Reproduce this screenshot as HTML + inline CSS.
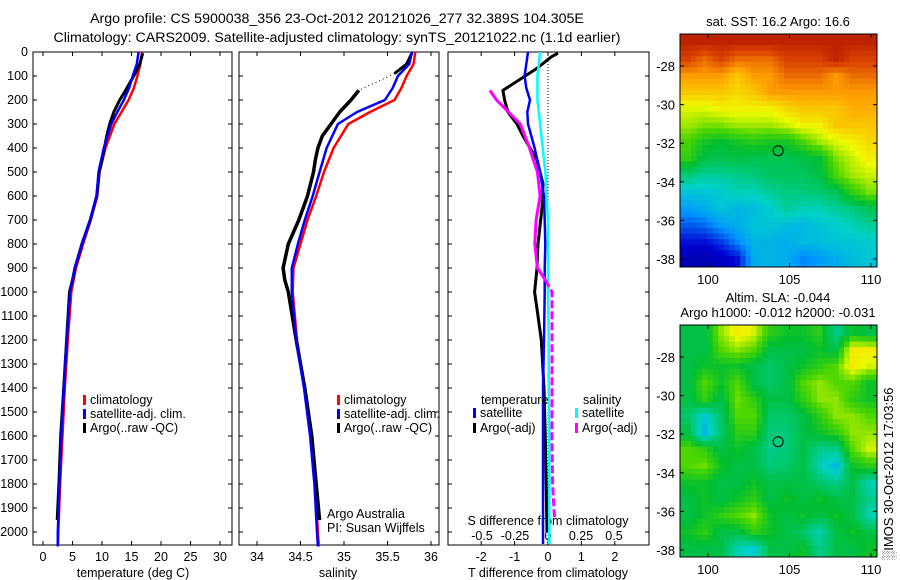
<!DOCTYPE html>
<html><head><meta charset="utf-8"><style>
body{margin:0;background:#fff;}
svg{display:block;font-family:"Liberation Sans",sans-serif;}
text{font-size:12px;fill:#000;}
</style></head><body>
<svg id="fig" width="900" height="580" viewBox="0 0 900 580">
<text x="337" y="23" text-anchor="middle" style="font-size:14.2px">Argo profile: CS 5900038_356 23-Oct-2012 20121026_277 32.389S 104.305E</text>
<text x="337" y="42" text-anchor="middle" style="font-size:14.2px">Climatology: CARS2009. Satellite-adjusted climatology: synTS_20121022.nc (1.1d earlier)</text>
<g id="g"></g>
</svg>
<script>
// ---------- data ----------
const depthTicks=[0,100,200,300,400,500,600,700,800,900,1000,1100,1200,1300,1400,1500,1600,1700,1800,1900,2000];
const tempTicks=[0,5,10,15,20,25,30];
const salTicks=[34,34.5,35,35.5,36];
const tdTicks=[-2,-1,0,1,2];
const sdTicks=[-0.5,-0.25,0,0.25,0.5];
const sdTickLabels=["-0.5","-0.25","0","0.25","0.5"];
const lonTicks=[100,105,110];
const latTicks=[-28,-30,-32,-34,-36,-38];

const climDepth=[0,50,100,150,200,250,300,400,500,600,700,800,900,1000,1200,1400,1600,1800,2000,2060];
const climTemp=[16.8,16.5,16.0,15.4,14.5,13.3,12.1,10.6,9.6,9.2,8.1,6.8,5.6,4.8,4.2,3.7,3.3,2.9,2.6,2.5];
const satTemp=[16.2,15.9,15.2,14.6,13.7,12.6,11.6,10.3,9.4,9.1,8.0,6.6,5.4,4.6,4.0,3.5,3.1,2.8,2.5,2.5];
const climSal=[35.82,35.8,35.72,35.66,35.58,35.3,35.05,34.88,34.77,34.68,34.58,34.5,34.42,34.41,34.46,34.55,34.62,34.67,34.7,34.71];
const satSal=[35.78,35.75,35.62,35.56,35.47,35.15,34.93,34.8,34.72,34.64,34.55,34.47,34.4,34.4,34.45,34.54,34.61,34.66,34.69,34.7];

const argoDepth=[5,50,90,160,200,250,300,350,400,450,500,600,700,800,900,950,1000,1200,1400,1600,1800,1950];
const argoTemp=[16.9,16.4,15.6,14.0,13.0,12.0,11.3,10.8,10.4,10.0,9.5,9.1,8.0,6.6,5.4,5.0,4.5,4.0,3.5,3.0,2.7,2.4];
const argoSal=[35.78,35.72,35.58,35.17,35.08,34.95,34.85,34.75,34.7,34.67,34.65,34.58,34.48,34.36,34.3,34.32,34.36,34.45,34.55,34.63,34.68,34.72];

const diffDepth=[0,50,100,150,200,250,300,400,500,600,700,800,900,1000,1200,1400,1600,1800,2000,2050];
const satTdiff=[-0.6,-0.65,-0.7,-0.65,-0.54,-0.62,-0.6,-0.4,-0.24,-0.12,-0.1,-0.08,-0.1,-0.1,-0.12,-0.15,-0.15,-0.15,-0.15,-0.15];
const satSdiff=[-0.06,-0.07,-0.08,-0.08,-0.08,-0.07,-0.06,-0.04,-0.02,-0.01,0,0,0,0,0.005,0.005,0.01,0.01,0.01,0.01];
const argoTdDepth=[5,20,70,160,200,250,300,350,450,550,650,800,900,1000,1100,1200,1400,1600,2000];
const argoTdiff=[0.3,0.1,-0.35,-1.35,-1.3,-1.2,-0.93,-0.75,-0.33,-0.15,-0.18,-0.3,-0.33,-0.4,-0.3,-0.2,-0.12,-0.08,-0.03];
const argoSdDepth=[160,200,250,300,400,500,600,700,800,900,950,1000,1200,1400,1600,1800,1950];
const argoSdiff=[-0.44,-0.39,-0.3,-0.21,-0.14,-0.08,-0.06,-0.09,-0.1,-0.08,-0.02,0.03,0.03,0.03,0.03,0.035,0.05];

const sstGrid=[
[21,21,21,21,21,21,21,21,21,21,21,21],
[20.5,20,20.5,20,20,20,20.5,20.5,20.5,21,20.5,20.5],
[19.5,19.5,19.5,19,19.5,19.5,20,20,20,19.5,20,20],
[19,19,19,18.8,19,19.5,19.5,19.5,19.5,19.5,19.5,19.5],
[18.3,18.3,18.5,18.5,18.5,18.5,18.8,19,19,19,19.3,19.3],
[18,17.8,17.8,18,18,18,18.2,18.5,18.5,19,19,19],
[17.5,17,16.8,17,17.2,17,17,17.5,18,18.3,18.5,18.8],
[17.3,16.6,16.5,16.6,16.5,16.5,16.5,16.6,16.8,17.8,18.2,18.5],
[16.2,16,16,16.1,16.2,16.4,16.4,16.4,16.6,17.5,18,18.2],
[15.5,15.5,15.6,15.8,15.8,16,16.2,16.2,16.3,16.5,17.3,17.8],
[15,15.2,15.5,15.3,15.4,15.6,16,15.8,15.8,16,16.2,16.5],
[14.5,14.6,15,15.2,15.5,15.5,15.4,15.3,15.5,15.6,15.8,16],
[14,14,14.3,14.8,15.3,15.3,15.2,15.4,15.4,15.5,15.5,15.6],
[13.5,13.5,13.7,14,15.2,15.3,15.2,14.8,15,15.2,15.4,15.5]];
const slaGrid=[
[0,0,0.4,0.6,0.5,0.2,0.1,0.1,0.2,-0.2,0.1,0],
[0,0,0.3,0.4,0.3,0,0,0,0.1,0,0.6,0.6],
[0,0.1,0.1,0.1,0,-0.1,0,0.1,0.2,0.3,0.6,0.5],
[0,0.3,0.1,0.3,0,-0.1,0,0.3,0.4,0.3,0.3,0.1],
[0,0.2,0,0.35,0.2,0,0,0.2,0.4,0.4,0.2,0.1],
[-0.1,-0.4,-0.1,0.3,0.3,-0.1,-0.1,0,0.2,0.4,0.4,0.3],
[0,-0.5,-0.1,0.2,0.2,-0.15,-0.15,0,0.1,0.2,0.4,0.4],
[0.3,0.2,0,0.1,0,-0.2,-0.15,0,-0.2,-0.2,0.3,0.5],
[0.3,0.35,0.1,0,0,-0.15,-0.1,0,-0.3,-0.5,0.1,0.2],
[0.1,0.1,0,0,0.1,0,0,0,-0.1,-0.2,0,-0.3],
[0,0.1,0,0.1,0.2,0,0.1,0,0.1,0,0,-0.2],
[0,0.1,0.2,0.3,0.4,0.1,0,0.1,0,0.1,0,-0.3],
[0.1,0.2,0,0,0.2,0.1,0,-0.1,-0.3,0,0.1,0],
[0,0,0,-0.3,-0.4,0,0,0.1,-0.2,0,0,0.1]];
const argoLon=104.305, argoLat=-32.389;

// ---------- helpers ----------
const NS="http://www.w3.org/2000/svg";
const G=document.getElementById('g');
function mk(tag,attrs,parent){const e=document.createElementNS(NS,tag);for(const k in attrs)e.setAttribute(k,attrs[k]);(parent||G).appendChild(e);return e;}
const TOP=52,BOT=545;
const yD=d=>TOP+d*0.24;
const xT=v=>43+v*5.9;
const xS=v=>257+(v-34)*87;
const xTd=v=>548+v*33.4;
const xSd=v=>548+v*132;

function box(x0,x1,y0,y1,name){const r=mk('rect',{x:x0,y:y0,width:x1-x0,height:y1-y0,fill:'none',stroke:'#000','stroke-width':1});}
function line(xs,ys,fx,fy,col,w,name,dash){
  let d='';for(let i=0;i<xs.length;i++)d+=(i?'L':'M')+fx(xs[i]).toFixed(1)+' '+fy(ys[i]).toFixed(1);
  const p=mk('path',{d:d,fill:'none',stroke:col,'stroke-width':w,'stroke-linejoin':'round'});
  if(dash)p.setAttribute('stroke-dasharray',dash);
  return p;}
function txt(x,y,s,anchor,name,size){const t=mk('text',{x:x,y:y,'text-anchor':anchor||'start'});t.textContent=s;if(size)t.style.fontSize=size+'px';return t;}
function vt(x,y0,y1){mk('line',{x1:x,x2:x,y1:y0,y2:y1,stroke:'#000','stroke-width':1});}
function ht(x0,x1,y){mk('line',{x1:x0,x2:x1,y1:y,y2:y,stroke:'#000','stroke-width':1});}

const panels=[[33,232],[239,439],[448,649]];
panels.forEach((p,i)=>{
  box(p[0],p[1],TOP,BOT,'profile-panel-'+(i+1));
  depthTicks.forEach(d=>{ht(p[0],p[0]+4,yD(d));ht(p[1]-4,p[1],yD(d));});
});
depthTicks.forEach(d=>txt(28,yD(d)+4,String(d),'end','depth-tick-label',12.5));
tempTicks.forEach(v=>{vt(xT(v),BOT-4,BOT);vt(xT(v),TOP,TOP+4);txt(xT(v),561,String(v),'middle','temp-tick-label',12.5);});
txt(133,577,'temperature (deg C)','middle','temp-axis-title',12.5);
salTicks.forEach(v=>{vt(xS(v),BOT-4,BOT);vt(xS(v),TOP,TOP+4);txt(xS(v),561,String(v),'middle','sal-tick-label',12.5);});
txt(338,577,'salinity','middle','sal-axis-title',12.5);
tdTicks.forEach(v=>{vt(xTd(v),BOT-4,BOT);vt(xTd(v),TOP,TOP+4);txt(xTd(v),561,String(v),'middle','tdiff-tick-label',12.5);});
txt(548,577,'T difference from climatology','middle','tdiff-axis-title',12.5);
sdTicks.forEach((v,i)=>txt(xSd(v),540,sdTickLabels[i],'middle','sdiff-tick-label',12.5));
txt(548,525,'S difference from climatology','middle','sdiff-axis-title',12.5);
mk('line',{x1:548,x2:548,y1:TOP,y2:BOT,stroke:'#000','stroke-width':1,'stroke-dasharray':'1,2'});

// temperature panel
line(climTemp,climDepth,xT,yD,'#ff0000',2.5,'temp-climatology-line');
line(argoTemp,argoDepth,xT,yD,'#000',3,'temp-argo-line');
line(satTemp,climDepth,xT,yD,'#0000ff',2.5,'temp-satellite-line');
// salinity panel
line(climSal,climDepth,xS,yD,'#ff0000',2.5,'sal-climatology-line');
line(argoSal.slice(0,3),argoDepth.slice(0,3),xS,yD,'#000',3,'sal-argo-line-top');
line(argoSal.slice(2,4),argoDepth.slice(2,4),xS,yD,'#000',1,'sal-argo-gap',"1,3");
line(argoSal.slice(3),argoDepth.slice(3),xS,yD,'#000',3.5,'sal-argo-line');
line(satSal,climDepth,xS,yD,'#0000ff',2.5,'sal-satellite-line');
// diff panel
line(argoTdiff,argoTdDepth,xTd,yD,'#000',3,'tdiff-argo-line');
line(satTdiff,diffDepth,xTd,yD,'#0000ff',2.5,'tdiff-satellite-line');
line(satSdiff,diffDepth,xSd,yD,'#00ffff',2.5,'sdiff-satellite-line');
line(argoSdiff.slice(0,11),argoSdDepth.slice(0,11),xSd,yD,'#ff00ff',3,'sdiff-argo-line');
line(argoSdiff.slice(10),argoSdDepth.slice(10),xSd,yD,'#ff00ff',3,'sdiff-argo-line-deep',"8,3");

// legends
function leg(x,y,col,label,name){const r=mk('rect',{x:x,y:y-9,width:3,height:10,fill:col});txt(x+7,y,label,'start',name,12.5);}
leg(83,404,'#ff0000','climatology','legend-temp-climatology');
leg(83,418,'#0000ff','satellite-adj. clim.','legend-temp-satellite');
leg(83,432,'#000','Argo(..raw -QC)','legend-temp-argo');
leg(337,404,'#ff0000','climatology','legend-sal-climatology');
leg(337,418,'#0000ff','satellite-adj. clim.','legend-sal-satellite');
leg(337,432,'#000','Argo(..raw -QC)','legend-sal-argo');
txt(481,404,'temperature','start','legend-temperature-header',12.5);
leg(473,417,'#0000ff','satellite','legend-tdiff-satellite');
leg(473,432,'#000','Argo(-adj)','legend-tdiff-argo');
txt(583,404,'salinity','start','legend-salinity-header',12.5);
leg(575,417,'#00ffff','satellite','legend-sdiff-satellite');
leg(575,432,'#ff00ff','Argo(-adj)','legend-sdiff-argo');
txt(327,518,'Argo Australia','start','credit-line-1',12.5);
txt(327,532,'PI: Susan Wijffels','start','credit-line-2',12.5);

// colormap
const cmStops=[[0,[0,0,128]],[0.15,[0,0,210]],[0.28,[0,150,255]],[0.38,[0,210,200]],[0.46,[0,200,110]],[0.52,[0,190,50]],[0.6,[80,215,0]],[0.68,[240,250,0]],[0.78,[255,165,0]],[0.88,[220,70,0]],[1,[160,0,0]]];
function cmap(t){t=Math.max(0,Math.min(1,t));
  for(let i=1;i<cmStops.length;i++){if(t<=cmStops[i][0]){const a=cmStops[i-1],b=cmStops[i],f=(t-a[0])/(b[0]-a[0]);
    return 'rgb('+a[1].map((c,k)=>Math.round(c+(b[1][k]-c)*f)).join(',')+')';}}
  return 'rgb(160,0,0)';}
function sample(grid,r,c){
  const R=grid.length,C=grid[0].length;
  r=Math.max(0,Math.min(R-1,r));c=Math.max(0,Math.min(C-1,c));
  const r0=Math.floor(r),c0=Math.floor(c),r1=Math.min(R-1,r0+1),c1=Math.min(C-1,c0+1),fr=r-r0,fc=c-c0;
  return grid[r0][c0]*(1-fr)*(1-fc)+grid[r0][c1]*(1-fr)*fc+grid[r1][c0]*fr*(1-fc)+grid[r1][c1]*fr*fc;}
function map(y0,y1,grid,norm,name){
  const x0=680,x1=877,SUB=3;
  const lonX=v=>708+(v-100)*16.3;
  const latY=v=>y0+32+(-28-v)*19.3;
  const rows=grid.length*SUB,cols=grid[0].length*SUB,cw=(x1-x0)/cols,rh=(y1-y0)/rows;
  for(let i=0;i<rows;i++)for(let j=0;j<cols;j++){
    const v=sample(grid,(i+0.5)/SUB-0.5,(j+0.5)/SUB-0.5);
    const c=mk('rect',{x:(x0+j*cw).toFixed(2),y:(y0+i*rh).toFixed(2),width:(cw+0.5).toFixed(2),height:(rh+0.5).toFixed(2),fill:cmap(norm(v))});
    }
  box(x0,x1,y0,y1,name+'-frame');
  lonTicks.forEach(v=>{vt(lonX(v),y0,y0+4);vt(lonX(v),y1-4,y1);txt(lonX(v),y1+17,String(v),'middle',name+'-lon-label',13);});
  latTicks.forEach(v=>{ht(x0,x0+4,latY(v));ht(x1-4,x1,latY(v));txt(675,latY(v)+5,String(v),'end',name+'-lat-label',13);});
  const c=mk('circle',{cx:lonX(argoLon),cy:latY(argoLat),r:5,fill:'none',stroke:'#000','stroke-width':1});
  
}
map(34,267,sstGrid,v=>v>=16.6?0.5+(v-16.6)*0.1:0.5+(v-16.6)*0.13,'sst-map');
map(325,557,slaGrid,v=>0.5+v*0.33,'sla-map');
txt(778,26,'sat. SST: 16.2 Argo: 16.6','middle','sst-map-title',13);
txt(778,302,'Altim. SLA: -0.044','middle','sla-map-title',13);
txt(778,317,'Argo h1000: -0.012 h2000: -0.031','middle','sla-map-subtitle',13);
const st=txt(0,0,'\u2591IMOS 30-Oct-2012 17:03:56','start','timestamp-label',13);
st.setAttribute('transform','translate(893,560) rotate(-90)');
</script>
</body></html>
